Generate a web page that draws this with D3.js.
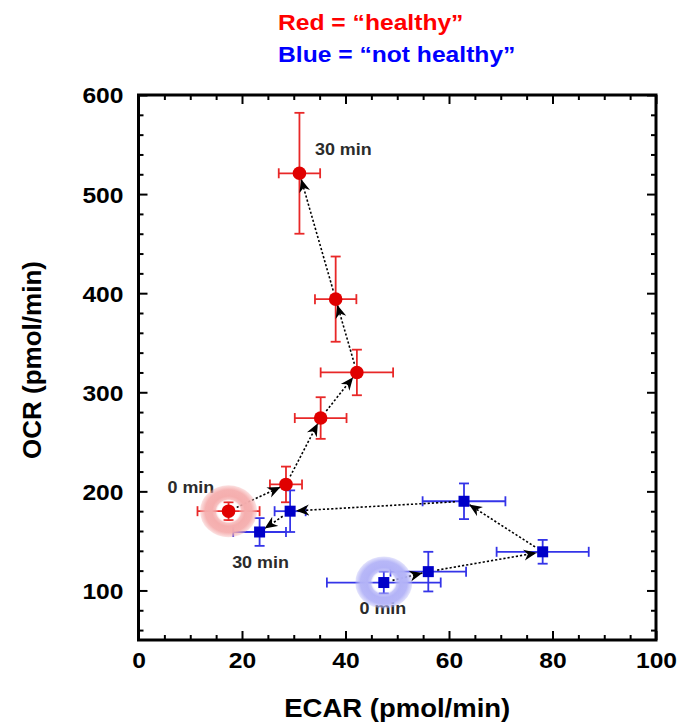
<!DOCTYPE html>
<html>
<head>
<meta charset="utf-8">
<script src="https://cdn.jsdelivr.net/npm/d3@7"></script>
<style>
  html, body { margin: 0; padding: 0; background: #fff; }
  svg text { font-family: "Liberation Sans", Arial, Helvetica, sans-serif; font-weight: bold; }
</style>
</head>
<body>
<svg id="chart" width="681" height="725"></svg>
<script>
// ---------- data ----------
const redEcar    = [17.4, 28.5, 35.2, 42.2, 38.1, 31.1];
const redOcr     = [180, 207, 274, 320, 394, 521];
const redEcarErr = [6.0, 3.1, 5.0, 7.0, 4.0, 4.0];
const redOcrErr  = [9, 18, 21, 23, 43, 61];

const blueEcar    = [47.4, 56.0, 78.1, 62.9, 29.3, 23.4];
const blueOcr     = [108, 119, 139, 190, 180, 159];
const blueEcarErr = [11, 7.3, 8.9, 8.0, 3.0, 5.1];
const blueOcrErr  = [11, 20, 12, 18, 21, 14];

const xMajorTicks = [0, 20, 40, 60, 80, 100];
const yMajorTicks = [100, 200, 300, 400, 500, 600];
const xMinorTicks = d3.range(5, 100, 5).filter(v => v % 20 !== 0);
const yMinorTicks = d3.range(60, 600, 20).filter(v => v % 100 !== 0);

const titleLines = ["Red = \u201chealthy\u201d", "Blue = \u201cnot healthy\u201d"];
const xTitle = "ECAR (pmol/min)";
const yTitle = "OCR (pmol/min)";

const timeLabelText = ["30 min", "0 min", "30 min", "0 min"];
const timeLabelEcar = [34.1, 5.6, 18.1, 42.7];
const timeLabelOcr  = [539.5, 198.6, 122.7, 75.8];

// ---------- layout ----------
const svg = d3.select("#chart");
const L = 138.5, R = 656, T = 95, B = 640;
const SX = 1.12; // horizontal text stretch

const x = d3.scaleLinear().domain([0, 100]).range([L, R]);
const y = d3.scaleLinear().domain([50, 600]).range([B, T]);

const defs = svg.append("defs");
defs.append("marker")
  .attr("id", "stealth")
  .attr("viewBox", "0 -6 13 12")
  .attr("refX", 13).attr("refY", 0)
  .attr("markerWidth", 13).attr("markerHeight", 12)
  .attr("markerUnits", "userSpaceOnUse")
  .attr("orient", "auto")
  .append("path")
  .attr("d", "M0,-5.5 L13,0 L0,5.5 L4,0 Z")
  .attr("fill", "#000");

function haloGradient(id, color) {
  const g = defs.append("radialGradient").attr("id", id)
    .attr("cx", "50%").attr("cy", "50%").attr("r", "50%");
  [[0, "#fff", 0], [0.36, "#fff", 0], [0.46, color, 0.75], [0.58, color, 1],
   [0.82, color, 0.95], [1, color, 0.35]].forEach(([o, c, op]) =>
    g.append("stop").attr("offset", o).attr("stop-color", c).attr("stop-opacity", op));
}
haloGradient("haloRed", "#f5aeae");
haloGradient("haloBlue", "#b3b3f7");

// ---------- title ----------
const titleColors = ["#ff0000", "#0000ff"];
const titleBase = [29.5, 61.5];
titleLines.forEach((t, i) => {
  svg.append("text")
    .attr("transform", `translate(278,${titleBase[i]}) scale(${SX},1)`)
    .attr("font-size", 22)
    .attr("fill", titleColors[i])
    .text(t);
});

// ---------- axes ----------
function styleAxis(g) {
  g.select(".domain").remove();
  g.selectAll("line").attr("stroke", "#000").attr("stroke-width", 2);
}
// bottom
const gxB = svg.append("g").attr("transform", `translate(0,${B})`)
  .call(d3.axisBottom(x).tickValues(xMajorTicks).tickSize(-9).tickFormat(d3.format("d")));
styleAxis(gxB);
gxB.selectAll("text")
  .attr("y", 0).attr("dy", null)
  .attr("transform", `translate(0,28) scale(${SX},1)`)
  .attr("font-size", 22).attr("fill", "#000");
const gxBm = svg.append("g").attr("transform", `translate(0,${B})`)
  .call(d3.axisBottom(x).tickValues(xMinorTicks).tickSize(-5).tickFormat(""));
styleAxis(gxBm);
// top
const gxT = svg.append("g").attr("transform", `translate(0,${T})`)
  .call(d3.axisTop(x).tickValues(xMajorTicks).tickSize(-9).tickFormat(""));
styleAxis(gxT);
const gxTm = svg.append("g").attr("transform", `translate(0,${T})`)
  .call(d3.axisTop(x).tickValues(xMinorTicks).tickSize(-5).tickFormat(""));
styleAxis(gxTm);
// left
const gyL = svg.append("g").attr("transform", `translate(${L},0)`)
  .call(d3.axisLeft(y).tickValues(yMajorTicks).tickSize(-9).tickFormat(d3.format("d")));
styleAxis(gyL);
gyL.selectAll("text")
  .attr("x", 0).attr("dy", "0.36em")
  .attr("transform", `translate(-15,0) scale(${SX},1)`)
  .attr("font-size", 22).attr("fill", "#000");
const gyLm = svg.append("g").attr("transform", `translate(${L},0)`)
  .call(d3.axisLeft(y).tickValues(yMinorTicks).tickSize(-5).tickFormat(""));
styleAxis(gyLm);
// right
const gyR = svg.append("g").attr("transform", `translate(${R},0)`)
  .call(d3.axisRight(y).tickValues(yMajorTicks).tickSize(-9).tickFormat(""));
styleAxis(gyR);
const gyRm = svg.append("g").attr("transform", `translate(${R},0)`)
  .call(d3.axisRight(y).tickValues(yMinorTicks).tickSize(-5).tickFormat(""));
styleAxis(gyRm);

// frame
svg.append("rect")
  .attr("x", L).attr("y", T).attr("width", R - L).attr("height", B - T)
  .attr("fill", "none").attr("stroke", "#000").attr("stroke-width", 3);

// axis titles
svg.append("text")
  .attr("transform", `translate(${(L + R) / 2},717) scale(1.1,1)`)
  .attr("text-anchor", "middle").attr("font-size", 25).attr("fill", "#000")
  .text(xTitle);
svg.append("text")
  .attr("transform", `translate(41,360) rotate(-90)`)
  .attr("text-anchor", "middle").attr("font-size", 26).attr("fill", "#000")
  .text(yTitle);

// ---------- time labels ----------
timeLabelText.forEach((t, i) => {
  svg.append("text")
    .attr("transform", `translate(${x(timeLabelEcar[i])},${y(timeLabelOcr[i])}) scale(${SX},1)`)
    .attr("font-size", 16).attr("fill", "#2b2b2b")
    .text(t);
});

// ---------- series ----------
const series = [
  { ecar: redEcar, ocr: redOcr, ex: redEcarErr, ey: redOcrErr,
    bar: "#e82828", fill: "#e00000", shape: "circle", halo: "haloRed" },
  { ecar: blueEcar, ocr: blueOcr, ex: blueEcarErr, ey: blueOcrErr,
    bar: "#3434e8", fill: "#0000c8", shape: "square", halo: "haloBlue" }
];

const layerErr = svg.append("g");
const layerArrow = svg.append("g");
const layerHalo = svg.append("g");
const layerMark = svg.append("g");
const cap = 5;

series.forEach(s => {
  const pts = s.ecar.map((e, i) => ({ e, o: s.ocr[i], ex: s.ex[i], ey: s.ey[i] }));
  // error bars
  pts.forEach(p => {
    const cx = x(p.e), cy = y(p.o);
    const g = layerErr.append("g").attr("stroke", s.bar).attr("stroke-width", 1.8);
    const x1 = x(p.e - p.ex), x2 = x(p.e + p.ex);
    const y1 = y(p.o - p.ey), y2 = y(p.o + p.ey);
    g.append("line").attr("x1", x1).attr("x2", x2).attr("y1", cy).attr("y2", cy);
    g.append("line").attr("x1", x1).attr("x2", x1).attr("y1", cy - cap).attr("y2", cy + cap);
    g.append("line").attr("x1", x2).attr("x2", x2).attr("y1", cy - cap).attr("y2", cy + cap);
    g.append("line").attr("x1", cx).attr("x2", cx).attr("y1", y1).attr("y2", y2);
    g.append("line").attr("x1", cx - cap).attr("x2", cx + cap).attr("y1", y1).attr("y2", y1);
    g.append("line").attr("x1", cx - cap).attr("x2", cx + cap).attr("y1", y2).attr("y2", y2);
  });
  // arrows between consecutive time points
  for (let i = 0; i < pts.length - 1; i++) {
    const ax = x(pts[i].e), ay = y(pts[i].o);
    const bx = x(pts[i + 1].e), by = y(pts[i + 1].o);
    const d = Math.hypot(bx - ax, by - ay);
    const ux = (bx - ax) / d, uy = (by - ay) / d;
    const s0 = 9, s1 = 6;
    layerArrow.append("line")
      .attr("x1", ax + ux * s0).attr("y1", ay + uy * s0)
      .attr("x2", bx - ux * s1).attr("y2", by - uy * s1)
      .attr("stroke", "#000").attr("stroke-width", 1.6)
      .attr("stroke-dasharray", "2.2,2")
      .attr("marker-end", "url(#stealth)");
  }
  // halo around the 0 min point
  layerHalo.append("ellipse")
    .attr("cx", x(pts[0].e)).attr("cy", y(pts[0].o))
    .attr("rx", 28.5).attr("ry", 26)
    .attr("fill", `url(#${s.halo})`);
  // markers
  pts.forEach(p => {
    if (s.shape === "circle") {
      layerMark.append("circle").attr("cx", x(p.e)).attr("cy", y(p.o)).attr("r", 6.8)
        .attr("fill", s.fill);
    } else {
      layerMark.append("rect").attr("x", x(p.e) - 5.5).attr("y", y(p.o) - 5.5)
        .attr("width", 11).attr("height", 11).attr("fill", s.fill);
    }
  });
});
</script>
</body>
</html>
